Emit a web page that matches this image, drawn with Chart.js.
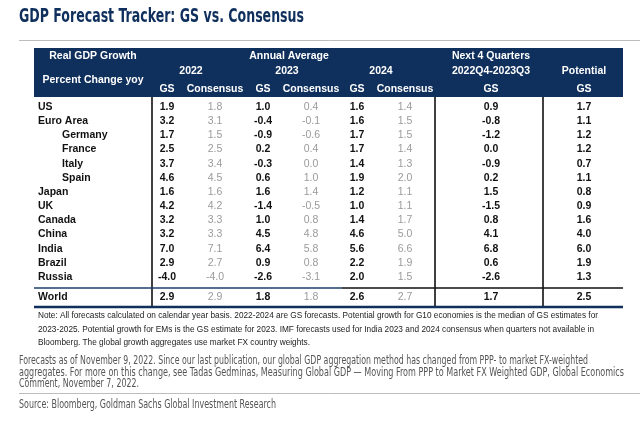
<!DOCTYPE html>
<html>
<head>
<meta charset="utf-8">
<script src="https://cdn.jsdelivr.net/npm/chart.js@4.4.1/dist/chart.umd.min.js"></script>
<style>
html,body{margin:0;padding:0;background:#fff;}
#wrap{width:640px;height:424px;position:relative;}
</style>
</head>
<body>
<div id="wrap"><canvas id="c" width="640" height="424"></canvas></div>
<script>
// ---- data ----
const rowLabels = ['US','Euro Area','Germany','France','Italy','Spain','Japan','UK','Canada','China','India','Brazil','Russia','World'];
const indented = ['Germany','France','Italy','Spain'];
const gs2022   = [1.9, 3.2, 1.7, 2.5, 3.7, 4.6, 1.6, 4.2, 3.2, 3.2, 7.0, 2.9, -4.0, 2.9];
const cons2022 = [1.8, 3.1, 1.5, 2.5, 3.4, 4.5, 1.6, 4.2, 3.3, 3.3, 7.1, 2.7, -4.0, 2.9];
const gs2023   = [1.0, -0.4, -0.9, 0.2, -0.3, 0.6, 1.6, -1.4, 1.0, 4.5, 6.4, 0.9, -2.6, 1.8];
const cons2023 = [0.4, -0.1, -0.6, 0.4, 0.0, 1.0, 1.4, -0.5, 0.8, 4.8, 5.8, 0.8, -3.1, 1.8];
const gs2024   = [1.6, 1.6, 1.7, 1.7, 1.4, 1.9, 1.2, 1.0, 1.4, 4.6, 5.6, 2.2, 2.0, 2.6];
const cons2024 = [1.4, 1.5, 1.5, 1.4, 1.3, 2.0, 1.1, 1.1, 1.7, 5.0, 6.6, 1.9, 1.5, 2.7];
const next4q   = [0.9, -0.8, -1.2, 0.0, -0.9, 0.2, 1.5, -1.5, 0.8, 4.1, 6.8, 0.6, -2.6, 1.7];
const potential= [1.7, 1.1, 1.2, 1.2, 0.7, 1.1, 0.8, 0.9, 1.6, 4.0, 6.0, 1.9, 1.3, 2.5];

const series = [
  {key:'GS', values: gs2022, cons:false},
  {key:'Consensus', values: cons2022, cons:true},
  {key:'GS', values: gs2023, cons:false},
  {key:'Consensus', values: cons2023, cons:true},
  {key:'GS', values: gs2024, cons:false},
  {key:'Consensus', values: cons2024, cons:true},
  {key:'GS', values: next4q, cons:false},
  {key:'GS', values: potential, cons:false}
];

const titleText = 'GDP Forecast Tracker: GS vs. Consensus';
const noteLines = [
 'Note: All forecasts calculated on calendar year basis. 2022-2024 are GS forecasts. Potential growth for G10 economies is the median of GS estimates for',
 '2023-2025. Potential growth for EMs is the GS estimate for 2023. IMF forecasts used for India 2023 and 2024 consensus when quarters not available in',
 'Bloomberg. The global growth aggregates use market FX country weights.'
];
const footLines = [
 'Forecasts as of November 9, 2022. Since our last publication, our global GDP aggregation method has changed from PPP- to market FX-weighted',
 'aggregates. For more on this change, see Tadas Gedminas, Measuring Global GDP \u2014 Moving From PPP to Market FX Weighted GDP, Global Economics',
 'Comment, November 7, 2022.'
];
const sourceText = 'Source: Bloomberg, Goldman Sachs Global Investment Research';

// ---- layout (positions, not data) ----
const colX = [167, 215, 263, 311, 357, 405, 491, 584];
const rowY = rowLabels.map((l,i)=> i < 13 ? 107 + i*14.17 : 297);
const NAVY = '#0f2f5c';
const F = 'Liberation Sans, Arial, Helvetica, sans-serif';
const FN = '"Liberation Sans Narrow", "DejaVu Sans Condensed", "Liberation Sans", sans-serif';

function txt(ctx, s, x, y, font, color, align, fitW){
  ctx.save();
  ctx.font = font; ctx.fillStyle = color; ctx.textBaseline = 'middle';
  ctx.textAlign = align || 'left';
  if (fitW){
    const w = ctx.measureText(s).width;
    const sx = fitW / w;
    ctx.translate(x, y); ctx.scale(sx, 1); ctx.fillText(s, 0, 0);
  } else ctx.fillText(s, x, y);
  ctx.restore();
}

const tablePlugin = {
  id: 'tablePlugin',
  beforeDatasetsDraw(chart){
    const {ctx, scales:{x, y}} = chart;
    const X = v => x.getPixelForValue(v), Y = v => y.getPixelForValue(v);
    // title
    txt(ctx, titleText, X(19), Y(17), 'bold 20px '+FN, NAVY, 'left', 285);
    // gray rules
    ctx.save();
    ctx.strokeStyle = '#bdbdbd'; ctx.lineWidth = 1;
    ctx.beginPath(); ctx.moveTo(X(19), Y(40.5)); ctx.lineTo(X(640), Y(40.5)); ctx.stroke();
    ctx.beginPath(); ctx.moveTo(X(19), Y(393.5)); ctx.lineTo(X(640), Y(393.5)); ctx.stroke();
    // header box
    ctx.fillStyle = NAVY;
    ctx.fillRect(X(34), Y(48), X(623)-X(34), Y(97)-Y(48));
    // vertical rules
    ctx.strokeStyle = '#111'; ctx.lineWidth = 1.6;
    [152, 435, 543].forEach(v=>{
      ctx.beginPath(); ctx.moveTo(X(v), Y(97)); ctx.lineTo(X(v), Y(306)); ctx.stroke();
    });
    // rule above World
    ctx.lineWidth = 1.6;
    ctx.strokeStyle = '#1d3f6e';
    ctx.beginPath(); ctx.moveTo(X(34), Y(288)); ctx.lineTo(X(342), Y(288)); ctx.stroke();
    ctx.strokeStyle = '#111';
    ctx.beginPath(); ctx.moveTo(X(342), Y(288)); ctx.lineTo(X(623), Y(288)); ctx.stroke();
    // bottom navy rule
    ctx.strokeStyle = NAVY; ctx.lineWidth = 2.5;
    ctx.beginPath(); ctx.moveTo(X(34), Y(307)); ctx.lineTo(X(623), Y(307)); ctx.stroke();
    ctx.restore();

    // header texts
    const hf = 'bold 10.5px '+F, W = '#ffffff';
    txt(ctx, 'Real GDP Growth', X(93), Y(56), hf, W, 'center');
    txt(ctx, 'Percent Change yoy', X(93), Y(80), hf, W, 'center');
    txt(ctx, 'Annual Average', X(289), Y(56), hf, W, 'center');
    txt(ctx, '2022', X((colX[0]+colX[1])/2), Y(71), hf, W, 'center');
    txt(ctx, '2023', X((colX[2]+colX[3])/2), Y(71), hf, W, 'center');
    txt(ctx, '2024', X((colX[4]+colX[5])/2), Y(71), hf, W, 'center');
    txt(ctx, 'Next 4 Quarters', X(colX[6]), Y(56), hf, W, 'center');
    txt(ctx, '2022Q4-2023Q3', X(colX[6]), Y(71), hf, W, 'center');
    txt(ctx, 'Potential', X(colX[7]), Y(71), hf, W, 'center');
    series.forEach((s,i)=> txt(ctx, s.key, X(colX[i]), Y(89), hf, W, 'center'));

    // row labels
    rowLabels.forEach((l,i)=>{
      const ind = indented.includes(l);
      txt(ctx, l, X(ind ? 62 : 38), Y(rowY[i]), 'bold 10.5px '+F, '#111', 'left');
    });

    // notes
    const nf = '8.6px '+F;
    txt(ctx, noteLines[0], X(38), Y(316), nf, '#222', 'left', 560);
    txt(ctx, noteLines[1], X(38), Y(329.5), nf, '#222', 'left', 556);
    txt(ctx, noteLines[2], X(38), Y(343), nf, '#222', 'left', 272);
    // footnote
    const ff = '12px '+FN;
    txt(ctx, footLines[0], X(19), Y(361), ff, '#555', 'left', 569);
    txt(ctx, footLines[1], X(19), Y(372.5), ff, '#555', 'left', 605);
    txt(ctx, footLines[2], X(19), Y(384), ff, '#555', 'left', 120);
    txt(ctx, sourceText, X(19), Y(405), ff, '#555', 'left', 257);
  },
  afterDatasetsDraw(chart){
    const {ctx} = chart;
    chart.data.datasets.forEach((ds, di)=>{
      const meta = chart.getDatasetMeta(di);
      const s = series[di];
      meta.data.forEach((pt, i)=>{
        const v = ds.data[i].v;
        const label = v.toFixed(1);
        txt(ctx, label, pt.x, pt.y, (s.cons ? '' : 'bold ') + '10.5px ' + F, s.cons ? '#9a9a9a' : '#111', 'center');
      });
    });
  }
};

new Chart(document.getElementById('c'), {
  type: 'scatter',
  data: {
    datasets: series.map((s, c)=>({
      label: s.key,
      data: s.values.map((v, r)=>({x: colX[c], y: rowY[r], v: v})),
      pointRadius: 0, pointHoverRadius: 0, showLine: false
    }))
  },
  options: {
    responsive: false, animation: false, events: [],
    layout: {padding: 0},
    plugins: {legend: {display:false}, tooltip: {enabled:false}, title:{display:false}},
    scales: {
      x: {type:'linear', min:0, max:640, display:false},
      y: {type:'linear', min:0, max:424, reverse:true, display:false}
    }
  },
  plugins: [tablePlugin]
});
</script>
</body>
</html>
